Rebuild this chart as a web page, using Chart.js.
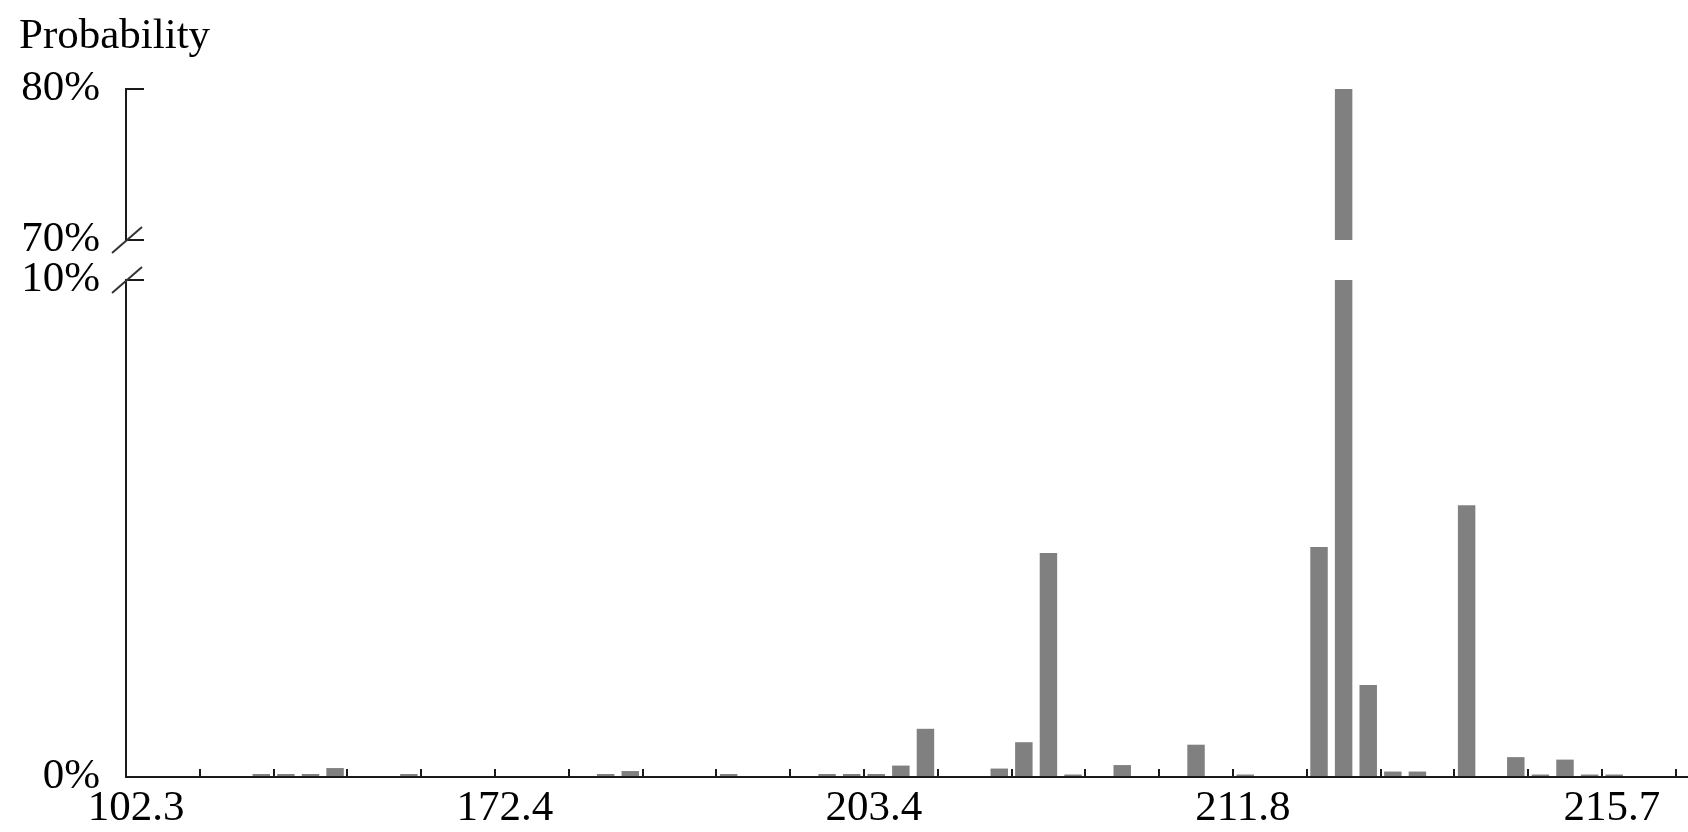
<!DOCTYPE html>
<html>
<head>
<meta charset="utf-8">
<script src="https://cdn.jsdelivr.net/npm/chart.js@4"></script>
<style>
  html, body { margin: 0; padding: 0; background: #ffffff; }
  #wrap { width: 1688px; height: 832px; position: relative; }
</style>
</head>
<body>
<div id="wrap"><canvas id="c"></canvas></div>
<script>
// ---- data (probability in %, one value per bin) ----
const probabilities = [
  0, 0, 0, 0, 0, 0.06, 0.06, 0.06, 0.18, 0,
  0, 0.06, 0, 0, 0, 0, 0, 0, 0, 0.06,
  0.12, 0, 0, 0, 0.06, 0, 0, 0, 0.06, 0.06,
  0.06, 0.23, 0.97, 0, 0, 0.17, 0.70, 4.51, 0.05, 0,
  0.24, 0, 0, 0.65, 0, 0.05, 0, 0, 4.63, 79.98,
  1.85, 0.11, 0.11, 0, 5.47, 0, 0.40, 0.05, 0.35, 0.05,
  0.05, 0, 0, 0
];
// tick labels, one per tick (a tick every 3 bins)
const xTickLabels = [
  '102.3', '', '', '', '',
  '172.4', '', '', '', '',
  '203.4', '', '', '', '',
  '211.8', '', '', '', '',
  '215.7', ''
];
const binsPerTick = 3;
const yLowTicks = [0, 10];
const yHighTicks = [70, 80];

const yLowMax = Math.max(...yLowTicks);
const yHighMin = Math.min(...yHighTicks);

const lowData = probabilities.map((p, i) => ({ x: i + 0.5, y: Math.min(p, yLowMax) }));
const highData = probabilities
  .map((p, i) => ({ x: i + 0.5, y: [yHighMin, p] }))
  .filter(d => d.y[1] > yHighMin);

const FONT = { family: "'Liberation Serif', 'Times New Roman', serif", size: 43 };
const AXIS = '#1a1a1a';
const BAR = '#808080';
const LEFT_W = 107;

const breakMarks = {
  id: 'breakMarks',
  afterDraw(chart) {
    const low = chart.scales.yLow, high = chart.scales.yHigh;
    const ctx = chart.ctx;
    const x = low.right;
    const ys = [high.getPixelForValue(yHighMin), low.getPixelForValue(yLowMax)];
    ctx.save();
    ctx.strokeStyle = '#333333';
    ctx.lineWidth = 2;
    ys.forEach(y => {
      ctx.beginPath();
      ctx.moveTo(x - 14, y + 13);
      ctx.lineTo(x + 16, y - 13);
      ctx.stroke();
    });
    ctx.restore();
  }
};

function fitY(s) {
  s.width = LEFT_W;
  s.paddingTop = 0;
  s.paddingBottom = 0;
}

const yCommon = {
  type: 'linear',
  position: 'left',
  stack: 'y',
  afterFit: fitY,
  border: { display: true, color: AXIS, width: 2 },
  grid: { display: true, drawOnChartArea: false, drawTicks: true, tickLength: -18, color: AXIS, lineWidth: 2 },
  ticks: { font: FONT, color: '#000000', padding: 44, callback: v => v + '%' }
};

new Chart(document.getElementById('c'), {
  type: 'bar',
  data: {
    datasets: [
      { data: lowData, yAxisID: 'yLow', backgroundColor: BAR, borderWidth: 0, grouped: false,
        barPercentage: 0.71, categoryPercentage: 1 },
      { data: highData, yAxisID: 'yHigh', backgroundColor: BAR, borderWidth: 0, grouped: false,
        barPercentage: 0.71, categoryPercentage: 1 }
    ]
  },
  options: {
    responsive: true,
    maintainAspectRatio: false,
    animation: false,
    layout: { padding: { left: 19, right: 0, top: 0, bottom: 0 } },
    plugins: {
      legend: { display: false },
      tooltip: { enabled: false },
      title: {
        display: true,
        text: 'Probability',
        align: 'start',
        color: '#000000',
        font: { family: FONT.family, size: 43, weight: 'normal' },
        padding: { top: 11, bottom: 26 }
      }
    },
    scales: {
      x: {
        type: 'linear',
        offset: false,
        min: 0,
        max: 63.5,
        afterFit(s) { s.height = 55; s.paddingLeft = 0; s.paddingRight = 0; },
        afterBuildTicks(s) { s.ticks = xTickLabels.map((_, k) => ({ value: k * binsPerTick })); },
        border: { display: true, color: AXIS, width: 2 },
        grid: { display: true, offset: false, drawOnChartArea: false, drawTicks: true, tickLength: -8, color: AXIS, lineWidth: 2 },
        ticks: {
          font: FONT, color: '#000000', padding: 14, labelOffset: 10,
          autoSkip: false, maxRotation: 0, minRotation: 0,
          callback: (v, idx) => xTickLabels[idx] || ''
        }
      },
      yLow: Object.assign({}, yCommon, {
        stackWeight: 497,
        min: yLowTicks[0], max: yLowMax,
        afterBuildTicks(s) { s.ticks = yLowTicks.map(v => ({ value: v })); }
      }),
      yGap: {
        type: 'linear', position: 'left', stack: 'y', stackWeight: 40,
        afterFit: fitY,
        border: { display: false },
        grid: { display: false },
        ticks: { display: false }
      },
      yHigh: Object.assign({}, yCommon, {
        stackWeight: 151.5,
        min: yHighTicks[0], max: yHighTicks[yHighTicks.length - 1],
        afterBuildTicks(s) { s.ticks = yHighTicks.map(v => ({ value: v })); }
      })
    }
  },
  plugins: [breakMarks]
});
</script>
</body>
</html>
